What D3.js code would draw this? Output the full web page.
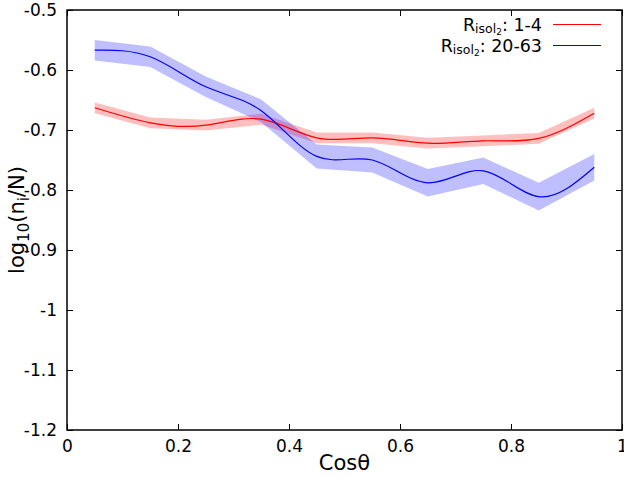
<!DOCTYPE html>
<html>
<head>
<meta charset="utf-8">
<script src="https://cdn.jsdelivr.net/npm/d3@7"></script>
<style>
  body { margin: 0; background: #fff; }
  #chart { width: 624px; height: 477px; }
  text { font-family: "DejaVu Sans", sans-serif; fill: #000; }
</style>
</head>
<body>
<div id="chart"></div>
<script>
// Bin centres on the x axis
const cosTheta = [0.05, 0.15, 0.25, 0.35, 0.45, 0.55, 0.65, 0.75, 0.85, 0.95];

// R_isol2 : 1-4 (red)
const lowMean = [-0.663, -0.688, -0.692, -0.682, -0.713, -0.713, -0.722, -0.718, -0.714, -0.672];
const lowErr  = [0.009, 0.009, 0.009, 0.009, 0.009, 0.009, 0.009, 0.009, 0.009, 0.009];

// R_isol2 : 20-63 (blue)
const highMean = [-0.567, -0.578, -0.628, -0.668, -0.744, -0.750, -0.788, -0.768, -0.811, -0.762];
const highErr  = [0.017, 0.017, 0.017, 0.019, 0.020, 0.021, 0.023, 0.022, 0.023, 0.022];

const xTicks = [0, 0.2, 0.4, 0.6, 0.8, 1];
const yTicks = [-0.5, -0.6, -0.7, -0.8, -0.9, -1, -1.1, -1.2];

const series = [
  { sub: '1-4',   mean: lowMean,  err: lowErr,  line: '#ff0000', band: '#ff0000' },
  { sub: '20-63', mean: highMean, err: highErr, line: '#0000ff', band: '#0000ff' },
];

const W = 624, H = 477;
const margin = { top: 10, right: 2, bottom: 47, left: 67 };
const width = W - margin.left - margin.right;
const height = H - margin.top - margin.bottom;

const svg = d3.select('#chart').append('svg')
  .attr('width', W)
  .attr('height', H);

const chart = svg.append('g')
  .attr('transform', `translate(${margin.left},${margin.top})`);

const x = d3.scaleLinear().domain([0, 1]).range([0, width]);
const y = d3.scaleLinear().domain([-1.2, -0.5]).range([height, 0]);

// Error bands first so that the lines sit on top
series.forEach(s => {
  const pts = cosTheta.map((c, i) => ({ c, m: s.mean[i], e: s.err[i] }));
  const area = d3.area()
    .x(d => x(d.c))
    .y0(d => y(d.m - d.e))
    .y1(d => y(d.m + d.e));
  chart.append('path')
    .datum(pts)
    .attr('d', area)
    .attr('fill', s.band)
    .attr('fill-opacity', 0.25);
});

series.forEach(s => {
  const pts = cosTheta.map((c, i) => ({ c, m: s.mean[i] }));
  const line = d3.line()
    .curve(d3.curveNatural)
    .x(d => x(d.c))
    .y(d => y(d.m));
  chart.append('path')
    .datum(pts)
    .attr('d', line)
    .attr('fill', 'none')
    .attr('stroke', s.line)
    .attr('stroke-width', 1.2);
});

// Axes: ticks pointing inwards on all four sides, plain hyphen minus
const tickLen = 6;
const fmt = d => String(+d.toFixed(1));

chart.append('g')
  .attr('transform', `translate(0,${height})`)
  .call(d3.axisBottom(x).tickValues(xTicks).tickSizeInner(-tickLen).tickSizeOuter(0).tickPadding(10).tickFormat(fmt));
chart.append('g')
  .call(d3.axisTop(x).tickValues(xTicks).tickSizeInner(-tickLen).tickSizeOuter(0).tickFormat(''));
chart.append('g')
  .call(d3.axisLeft(y).tickValues(yTicks).tickSizeInner(-tickLen).tickSizeOuter(0).tickPadding(10).tickFormat(fmt));
chart.append('g')
  .attr('transform', `translate(${width},0)`)
  .call(d3.axisRight(y).tickValues(yTicks).tickSizeInner(-tickLen).tickSizeOuter(0).tickFormat(''));

chart.selectAll('.domain').remove();
chart.selectAll('.tick line').attr('stroke', '#000').attr('stroke-width', 1);
chart.selectAll('.tick text')
  .style('font-family', '"DejaVu Sans", sans-serif')
  .style('font-size', '17px')
  .attr('fill', '#000');

// Frame
chart.append('rect')
  .attr('width', width)
  .attr('height', height)
  .attr('fill', 'none')
  .attr('stroke', '#000')
  .attr('stroke-width', 1.5);

// Axis titles
svg.append('text')
  .attr('x', margin.left + width / 2)
  .attr('y', 470)
  .attr('text-anchor', 'middle')
  .style('font-size', '21px')
  .text('Cosθ');

const yTitle = svg.append('text')
  .attr('transform', `translate(24,${margin.top + height / 2}) rotate(-90)`)
  .attr('text-anchor', 'middle')
  .style('font-size', '21px');
yTitle.append('tspan').text('log');
yTitle.append('tspan').attr('dy', 5).style('font-size', '15px').text('10');
yTitle.append('tspan').attr('dy', -5).text('(n');
yTitle.append('tspan').attr('dy', 5).style('font-size', '15px').text('i');
yTitle.append('tspan').attr('dy', -5).text('/N)');

// Legend, text right-aligned with a line sample on its right
const legend = svg.append('g');
series.forEach((s, i) => {
  const ly = 24.5 + i * 21;
  const t = legend.append('text')
    .attr('x', 542)
    .attr('y', ly + 6)
    .attr('text-anchor', 'end')
    .style('font-size', '17.5px');
  t.append('tspan').text('R');
  t.append('tspan').attr('dy', 2.5).style('font-size', '12.5px').text('isol');
  t.append('tspan').attr('dy', 2).style('font-size', '9px').text('2');
  t.append('tspan').attr('dy', -4.5).text(': ' + s.sub);
  legend.append('line')
    .attr('x1', 553).attr('x2', 601)
    .attr('y1', ly).attr('y2', ly)
    .attr('stroke', s.line)
    .attr('stroke-width', 1.2);
});
</script>
</body>
</html>
